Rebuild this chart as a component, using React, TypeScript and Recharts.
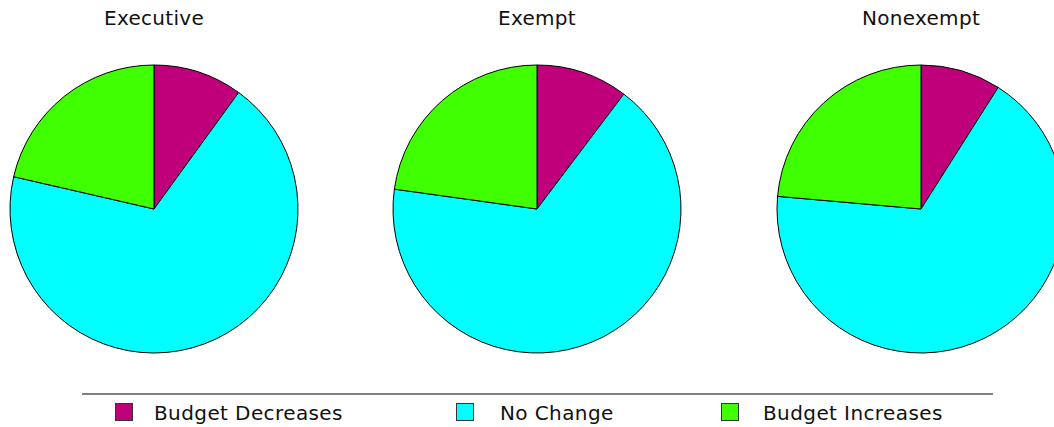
import React from 'react';
import { PieChart, Pie, Cell, Legend } from 'recharts';

const categories = ['Budget Decreases', 'No Change', 'Budget Increases'];
const groups = ['Executive', 'Exempt', 'Nonexempt'];
const executiveValues = [10.0, 68.6, 21.4];
const exemptValues = [10.3, 66.9, 22.8];
const nonexemptValues = [9.0, 67.4, 23.6];

const colors = ['#c0007a', '#00ffff', '#40ff00'];
const centers = [154, 537, 921];
const legendSquareX = [115, 456, 721];
const legendTextX = [154, 500, 763];

const font = '"DejaVu Sans", Verdana, sans-serif';

const toData = (values: number[]) =>
  categories.map((name, i) => ({ name, value: values[i] }));

const series = [executiveValues, exemptValues, nonexemptValues].map(toData);

const LegendBox = () => (
  <div style={{ position: 'relative', width: 1054, height: 47, fontFamily: font }}>
    <div
      style={{
        position: 'absolute',
        left: 82,
        top: 0,
        width: 911,
        height: 2,
        background: '#808080',
      }}
    />
    {categories.map((c, i) => (
      <React.Fragment key={c}>
        <div
          style={{
            position: 'absolute',
            left: legendSquareX[i],
            top: 10,
            width: 16,
            height: 16,
            background: colors[i],
            border: '1px solid #333',
          }}
        />
        <div
          style={{
            position: 'absolute',
            left: legendTextX[i],
            top: 8,
            fontSize: 20,
            lineHeight: '24px',
            color: '#111',
            whiteSpace: 'nowrap',
            letterSpacing: 0.4,
          }}
        >
          {c}
        </div>
      </React.Fragment>
    ))}
  </div>
);

export default function App() {
  return (
    <div style={{ position: 'absolute', left: 0, top: 0, width: 1054, height: 427, background: '#fff', overflow: 'hidden' }}>
      <PieChart width={1054} height={427} margin={{ top: 0, right: 0, bottom: 0, left: 0 }}>
        {series.map((data, k) => (
          <Pie
            key={groups[k]}
            data={data}
            dataKey="value"
            nameKey="name"
            cx={centers[k]}
            cy={209}
            outerRadius={144}
            startAngle={90}
            endAngle={-270}
            stroke="#000"
            strokeWidth={1}
            isAnimationActive={false}
          >
            {data.map((d, i) => (
              <Cell key={d.name} fill={colors[i]} />
            ))}
          </Pie>
        ))}
        <Legend
          content={() => <LegendBox />}
          wrapperStyle={{ position: 'absolute', left: 0, top: 393, width: 1054, height: 34 }}
        />
      </PieChart>
      {groups.map((g, k) => (
        <div
          key={g}
          style={{
            position: 'absolute',
            left: centers[k] - 100,
            width: 200,
            top: 6,
            textAlign: 'center',
            fontFamily: font,
            fontSize: 20,
            lineHeight: '24px',
            color: '#111',
            letterSpacing: 0.3,
          }}
        >
          {g}
        </div>
      ))}
    </div>
  );
}
